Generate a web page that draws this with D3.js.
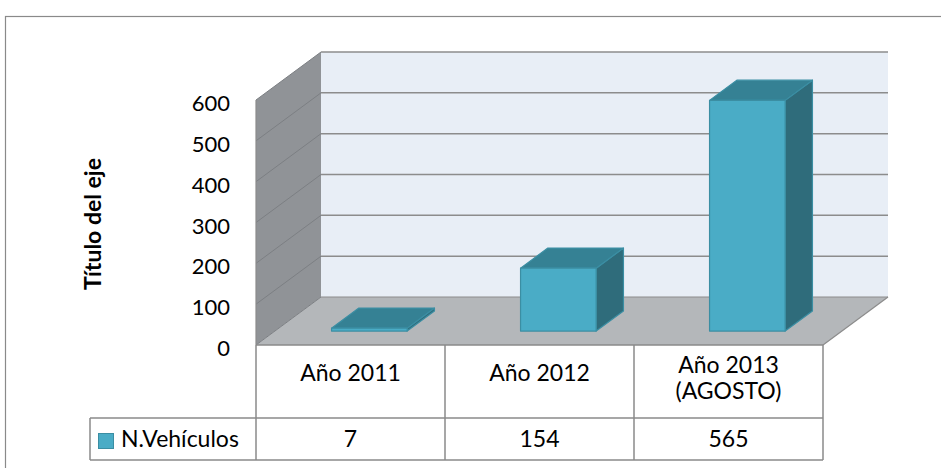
<!DOCTYPE html>
<html><head><meta charset="utf-8">
<script src="https://cdn.jsdelivr.net/npm/d3@7"></script>
<style>body{margin:0;background:#fff}svg{display:block}</style>
</head><body>
<svg id="c" width="941" height="468"></svg>
<script>
const categories = ["Año 2011", "Año 2012", "Año 2013\n(AGOSTO)"];
const values = [7, 154, 565];
const seriesName = "N.Vehículos";
const yTicks = [0, 100, 200, 300, 400, 500, 600];
const axisTitle = "Título del eje";

const svg = d3.select("#c");
const FONT = "Lato, 'Open Sans', sans-serif";
const FS = 23;
const x0 = 256, x1 = 823, yBase = 345, yTop = 100;
const DX = 65, DY = 48;
const x = d3.scaleBand().domain(categories).range([x0, x1]);
const y = d3.scaleLinear().domain([0, 600]).range([yBase, yTop]);
const P = (px, v, d) => [px + d * DX, y(v) - d * DY];
const poly = pts => "M" + pts.map(p => p.join(",")).join("L") + "Z";

// outer border
svg.append("rect").attr("x", 5.5).attr("y", 16.5).attr("width", 960).attr("height", 480)
  .attr("fill", "none").attr("stroke", "#8a8a8a").attr("stroke-width", 1.2);

// back wall
svg.append("path").attr("d", poly([P(x0,600,1), P(x1,600,1), P(x1,0,1), P(x0,0,1)])).attr("fill", "#e8eef6");
// left wall
svg.append("path").attr("d", poly([P(x0,600,0), P(x0,600,1), P(x0,0,1), P(x0,0,0)])).attr("fill", "#909397");
// floor
svg.append("path").attr("d", poly([P(x0,0,0), P(x0,0,1), P(x1,0,1), P(x1,0,0)])).attr("fill", "#b4b7ba");

// gridlines
yTicks.forEach(t => {
  if (t > 0) {
    svg.append("line").attr("x1", P(x0,t,1)[0]).attr("y1", P(x0,t,1)[1]).attr("x2", P(x1,t,1)[0]).attr("y2", P(x1,t,1)[1])
      .attr("stroke", "#8c8c8c").attr("stroke-width", 1.5);
  }
  svg.append("line").attr("x1", P(x0,t,0)[0]).attr("y1", P(x0,t,0)[1]).attr("x2", P(x0,t,1)[0]).attr("y2", P(x0,t,1)[1])
    .attr("stroke", "#7c7f83").attr("stroke-width", 1);
});
// floor edges
svg.append("line").attr("x1", P(x0,0,1)[0]).attr("y1", P(x0,0,1)[1]).attr("x2", P(x1,0,1)[0]).attr("y2", P(x1,0,1)[1]).attr("stroke", "#8c8c8c").attr("stroke-width", 1.2);
svg.append("line").attr("x1", P(x1,0,0)[0]).attr("y1", P(x1,0,0)[1]).attr("x2", P(x1,0,1)[0]).attr("y2", P(x1,0,1)[1]).attr("stroke", "#8c8c8c").attr("stroke-width", 1.2);
svg.append("line").attr("x1", P(x0,0,0)[0]).attr("y1", P(x0,0,0)[1]).attr("x2", P(x0,600,0)[0]).attr("y2", P(x0,600,0)[1]).attr("stroke", "#8c8c8c").attr("stroke-width", 1.2);

// bars
const d0 = 0.29, d1 = 0.71, bw = x.bandwidth() * 0.4;
categories.forEach((c, i) => {
  const v = values[i];
  const bx = x(c) + (x.bandwidth() - bw) / 2;
  const g = svg.append("g").attr("stroke", "#3b8ea3").attr("stroke-width", 1.2).attr("stroke-linejoin", "round");
  g.append("path").attr("d", poly([P(bx+bw,0,d0), P(bx+bw,v,d0), P(bx+bw,v,d1), P(bx+bw,0,d1)])).attr("fill", "#2f6c7b");
  g.append("path").attr("d", poly([P(bx,v,d0), P(bx,v,d1), P(bx+bw,v,d1), P(bx+bw,v,d0)])).attr("fill", "#358194");
  g.append("path").attr("d", poly([P(bx,0,d0), P(bx,v,d0), P(bx+bw,v,d0), P(bx+bw,0,d0)])).attr("fill", "#4aacc6");
});

// y tick labels
svg.selectAll(".yt").data(yTicks).join("text")
  .attr("x", 230).attr("y", d => y(d) + 11).attr("text-anchor", "end")
  .attr("font-family", FONT).attr("font-size", 22).attr("fill", "#000").text(d => d);

// axis title
svg.append("text").attr("transform", "translate(93,224) rotate(-90)").attr("text-anchor", "middle").attr("dy", "0.35em")
  .attr("font-family", FONT).attr("font-size", 23).attr("font-weight", "bold").text(axisTitle);

// data table
const tb = 418, tr = 460, lx = 90;
const ts = "#8a8a8a";
const ln = (a, b, c, d) => svg.append("line").attr("x1", a).attr("y1", b).attr("x2", c).attr("y2", d).attr("stroke", ts).attr("stroke-width", 1.5);
ln(x0, yBase, x1, yBase);
ln(lx, tb, x1, tb);
ln(lx, tr, x1, tr);
ln(lx, tb, lx, tr);
[x0, ...categories.map(c => x(c) + x.bandwidth())].forEach(px => ln(px, yBase, px, tr));

categories.forEach((c, i) => {
  const lines = c.split("\n");
  const base = lines.length === 1 ? 381 : 373;
  lines.forEach((l, j) => svg.append("text").attr("text-anchor", "middle").attr("font-family", FONT).attr("font-size", FS)
    .attr("x", x(c) + x.bandwidth() / 2).attr("y", base + j * 26).text(l));
  svg.append("text").attr("x", x(c) + x.bandwidth() / 2).attr("y", 447).attr("text-anchor", "middle")
    .attr("font-family", FONT).attr("font-size", FS).text(values[i]);
});
svg.append("rect").attr("x", 98.5).attr("y", 433.5).attr("width", 15).attr("height", 15).attr("fill", "#4aacc6").attr("stroke", "#3b8ea3");
svg.append("text").attr("x", 121).attr("y", 447).attr("font-family", FONT).attr("font-size", FS).text(seriesName);
</script>
</body></html>
